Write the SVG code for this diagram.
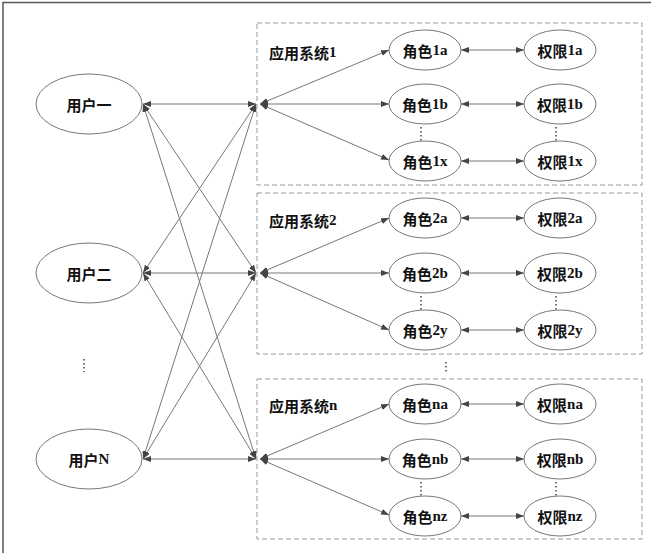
<svg xmlns="http://www.w3.org/2000/svg" width="651" height="555" viewBox="0 0 651 555">
<defs>
<marker id="ah" viewBox="0 0 8 6" refX="8" refY="3" markerWidth="8" markerHeight="6" markerUnits="userSpaceOnUse" orient="auto-start-reverse">
<path d="M0,0 L8,3 L0,6 z" fill="#444"/>
</marker>
<style>
.frame{stroke:#555;stroke-width:1.5;fill:none}
.box{fill:none;stroke:#999;stroke-width:1;stroke-dasharray:5 3}
.node ellipse{fill:#fff;stroke:#777;stroke-width:1}
.t{font-family:"Noto Sans CJK SC","Noto Sans CJK JP",sans-serif;font-weight:bold;font-size:15px;fill:#111;text-anchor:middle;dominant-baseline:central}
.s{font-family:"Noto Sans CJK SC","Noto Sans CJK JP",sans-serif;font-weight:bold;font-size:15px;fill:#111;dominant-baseline:central}
.l{font-family:"Liberation Serif",serif;font-weight:bold}
.c line{stroke:#777;stroke-width:1;marker-start:url(#ah);marker-end:url(#ah)}
.dots{stroke:#444;stroke-width:1.5;stroke-dasharray:1.5 2.5;fill:none}
</style>
</defs>
<rect width="651" height="555" fill="#fff"/>
<path class="frame" d="M3,553 L3,2.5 L651,2.5"/>

<g id="boxes">
<rect class="box" x="257" y="23" width="385" height="162"/>
<rect class="box" x="257" y="193" width="385" height="161"/>
<rect class="box" x="257" y="379" width="385" height="160"/>
</g>

<g id="labels">
<text class="s" x="269" y="52">应用系统<tspan class="l">1</tspan></text>
<text class="s" x="269" y="220">应用系统<tspan class="l">2</tspan></text>
<text class="s" x="269" y="405">应用系统<tspan class="l">n</tspan></text>
</g>

<g id="dots">
<path class="dots" d="M84,359 V372"/>
<path class="dots" d="M446,362 V374"/>
<path class="dots" d="M421,127 V141 M556,127 V141"/>
<path class="dots" d="M421,296 V310 M556,296 V310"/>
<path class="dots" d="M421,482 V496 M556,482 V496"/>
</g>

<g id="connectors" class="c">
<line x1="143" y1="104" x2="256" y2="104"/>
<line x1="143" y1="104" x2="256" y2="273"/>
<line x1="143" y1="104" x2="256" y2="459"/>
<line x1="143" y1="273" x2="256" y2="104"/>
<line x1="143" y1="273" x2="256" y2="273"/>
<line x1="143" y1="273" x2="256" y2="459"/>
<line x1="143" y1="459" x2="256" y2="104"/>
<line x1="143" y1="459" x2="256" y2="273"/>
<line x1="143" y1="459" x2="256" y2="459"/>

<line x1="260" y1="104" x2="389" y2="50"/>
<line x1="260" y1="104" x2="389" y2="104"/>
<line x1="260" y1="104" x2="389" y2="160"/>
<line x1="260" y1="273" x2="389" y2="218"/>
<line x1="260" y1="273" x2="389" y2="273"/>
<line x1="260" y1="273" x2="389" y2="330"/>
<line x1="260" y1="459" x2="389" y2="404"/>
<line x1="260" y1="459" x2="389" y2="459"/>
<line x1="260" y1="459" x2="389" y2="515"/>

<line x1="461" y1="50" x2="524" y2="50"/>
<line x1="461" y1="104" x2="524" y2="104"/>
<line x1="461" y1="161" x2="524" y2="161"/>
<line x1="461" y1="218" x2="524" y2="218"/>
<line x1="461" y1="273" x2="524" y2="273"/>
<line x1="461" y1="330" x2="524" y2="330"/>
<line x1="461" y1="404" x2="524" y2="404"/>
<line x1="461" y1="459" x2="524" y2="459"/>
<line x1="461" y1="516" x2="524" y2="516"/>
</g>

<g id="user1" class="node"><ellipse cx="89" cy="104" rx="53" ry="30"/><text class="t" x="89" y="104">用户一</text></g>
<g id="user2" class="node"><ellipse cx="89" cy="273" rx="53" ry="30"/><text class="t" x="89" y="273">用户二</text></g>
<g id="userN" class="node"><ellipse cx="89" cy="459" rx="53" ry="30"/><text class="t" x="89" y="459">用户<tspan class="l">N</tspan></text></g>

<g id="role1a" class="node"><ellipse cx="425" cy="50" rx="36" ry="20"/><text class="t" x="425" y="50">角色<tspan class="l">1a</tspan></text></g>
<g id="role1b" class="node"><ellipse cx="425" cy="104" rx="36" ry="20"/><text class="t" x="425" y="104">角色<tspan class="l">1b</tspan></text></g>
<g id="role1x" class="node"><ellipse cx="425" cy="161" rx="36" ry="20"/><text class="t" x="425" y="161">角色<tspan class="l">1x</tspan></text></g>
<g id="perm1a" class="node"><ellipse cx="560" cy="50" rx="36" ry="20"/><text class="t" x="560" y="50">权限<tspan class="l">1a</tspan></text></g>
<g id="perm1b" class="node"><ellipse cx="560" cy="104" rx="36" ry="20"/><text class="t" x="560" y="104">权限<tspan class="l">1b</tspan></text></g>
<g id="perm1x" class="node"><ellipse cx="560" cy="161" rx="36" ry="20"/><text class="t" x="560" y="161">权限<tspan class="l">1x</tspan></text></g>

<g id="role2a" class="node"><ellipse cx="425" cy="218" rx="36" ry="20"/><text class="t" x="425" y="218">角色<tspan class="l">2a</tspan></text></g>
<g id="role2b" class="node"><ellipse cx="425" cy="273" rx="36" ry="20"/><text class="t" x="425" y="273">角色<tspan class="l">2b</tspan></text></g>
<g id="role2y" class="node"><ellipse cx="425" cy="330" rx="36" ry="20"/><text class="t" x="425" y="330">角色<tspan class="l">2y</tspan></text></g>
<g id="perm2a" class="node"><ellipse cx="560" cy="218" rx="36" ry="20"/><text class="t" x="560" y="218">权限<tspan class="l">2a</tspan></text></g>
<g id="perm2b" class="node"><ellipse cx="560" cy="273" rx="36" ry="20"/><text class="t" x="560" y="273">权限<tspan class="l">2b</tspan></text></g>
<g id="perm2y" class="node"><ellipse cx="560" cy="330" rx="36" ry="20"/><text class="t" x="560" y="330">权限<tspan class="l">2y</tspan></text></g>

<g id="rolena" class="node"><ellipse cx="425" cy="404" rx="36" ry="20"/><text class="t" x="425" y="404">角色<tspan class="l">na</tspan></text></g>
<g id="rolenb" class="node"><ellipse cx="425" cy="459" rx="36" ry="20"/><text class="t" x="425" y="459">角色<tspan class="l">nb</tspan></text></g>
<g id="rolenz" class="node"><ellipse cx="425" cy="516" rx="36" ry="20"/><text class="t" x="425" y="516">角色<tspan class="l">nz</tspan></text></g>
<g id="permna" class="node"><ellipse cx="560" cy="404" rx="36" ry="20"/><text class="t" x="560" y="404">权限<tspan class="l">na</tspan></text></g>
<g id="permnb" class="node"><ellipse cx="560" cy="459" rx="36" ry="20"/><text class="t" x="560" y="459">权限<tspan class="l">nb</tspan></text></g>
<g id="permnz" class="node"><ellipse cx="560" cy="516" rx="36" ry="20"/><text class="t" x="560" y="516">权限<tspan class="l">nz</tspan></text></g>
</svg>
